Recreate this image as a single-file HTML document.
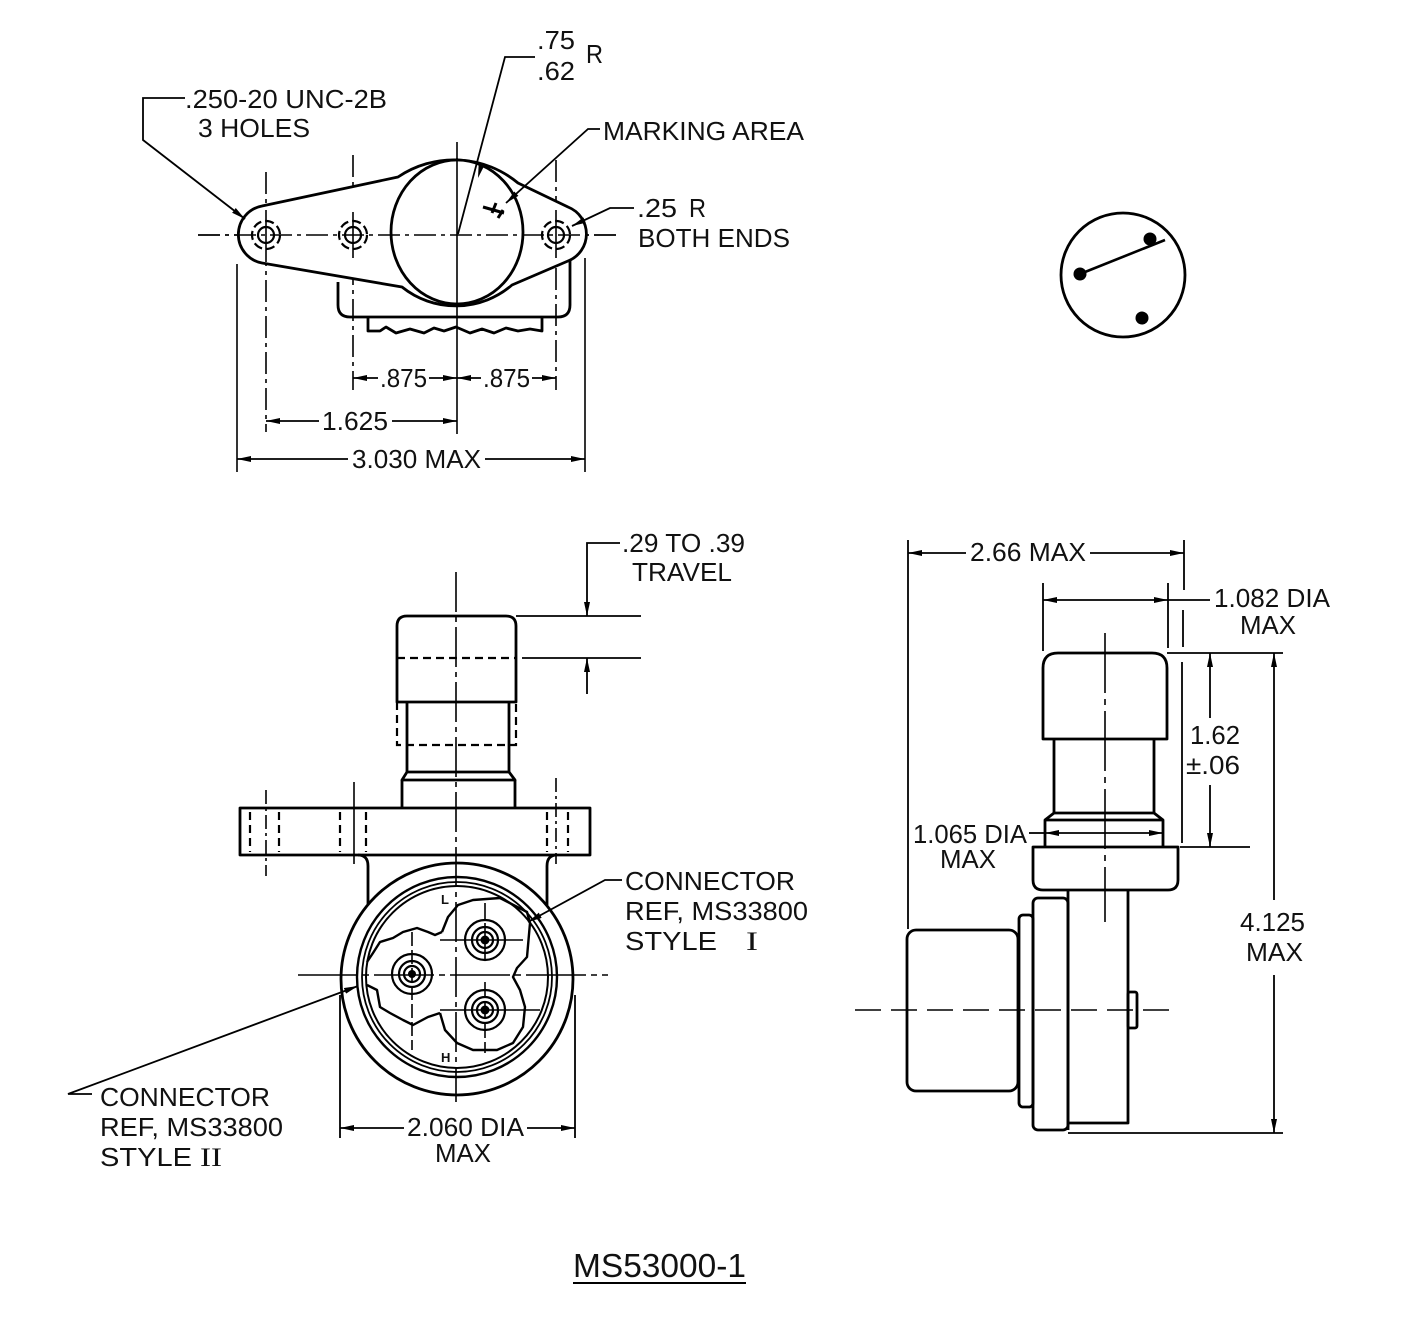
<!DOCTYPE html>
<html>
<head>
<meta charset="utf-8">
<style>
html,body{margin:0;padding:0;background:#fff;}
svg{display:block;}
text{font-family:"Liberation Sans",Arial,sans-serif;font-size:26px;fill:#111;}
.s{font-family:"Liberation Serif",serif;}
</style>
</head>
<body>
<svg width="1408" height="1340" viewBox="0 0 1408 1340" xmlns="http://www.w3.org/2000/svg">
<defs>
<marker id="a" viewBox="0 0 14 6" refX="14" refY="3" markerWidth="14" markerHeight="6" markerUnits="userSpaceOnUse" orient="auto-start-reverse"><path d="M0,0 L14,3 L0,6 Z" fill="#000"/></marker>
</defs>
<rect width="1408" height="1340" fill="#fff"/>

<!-- ================= TOP VIEW ================= -->
<g fill="none" stroke="#000" stroke-width="1.6">
  <g stroke-dasharray="22,5,4,5">
    <line x1="198" y1="235" x2="616" y2="235"/>
    <line x1="266" y1="172" x2="266" y2="432"/>
    <line x1="353" y1="155" x2="353" y2="390"/>
    <line x1="556" y1="160" x2="556" y2="390"/>
  </g>
  <line x1="457" y1="142" x2="457" y2="434"/>
  <line x1="237" y1="264" x2="237" y2="472"/>
  <line x1="585" y1="258" x2="585" y2="472"/>
</g>
<g fill="none" stroke="#000" stroke-width="2.8" stroke-linejoin="round">
  <path d="M338,282 L338,305 Q338,317 350,317 L558,317 Q570,317 570,305 L570,258"/>
  <path d="M368,317 L368,331 L380,331 L386,327 L396,333 L410,329 L424,333 L434,328 L444,331 L456,327 L470,333 L482,329 L494,333 L506,328 L518,331 L530,329 L542,331 L542,317"/>
  <path d="M262,206 L398,177 A100 100 0 0 1 518,183 L568,207 A29 29 0 0 1 568,261 L512,285 A86 86 0 0 1 402,287 L262,263 A29 29 0 0 1 262,206 Z" fill="#fff"/>
  <ellipse cx="457" cy="232" rx="66" ry="72" fill="#fff"/>
</g>
<g fill="none" stroke="#000" stroke-width="1.6">
  <line x1="198" y1="235" x2="616" y2="235" stroke-dasharray="22,5,4,5"/>
  <line x1="457" y1="158" x2="457" y2="306"/>
  <line x1="266" y1="210" x2="266" y2="262" />
  <line x1="353" y1="212" x2="353" y2="258" />
  <line x1="556" y1="210" x2="556" y2="258" />
</g>
<g fill="none" stroke="#000">
  <circle cx="266" cy="235" r="8" stroke-width="2.2"/>
  <circle cx="266" cy="235" r="14" stroke-width="2.2" stroke-dasharray="9,4"/>
  <circle cx="353" cy="235" r="8" stroke-width="2.2"/>
  <circle cx="353" cy="235" r="14" stroke-width="2.2" stroke-dasharray="9,4"/>
  <circle cx="556" cy="235" r="8" stroke-width="2.2"/>
  <circle cx="556" cy="235" r="14" stroke-width="2.2" stroke-dasharray="9,4"/>
</g>
<path d="M483,207 L504,213 M496,203 L492,213 M503,210 L498,218" stroke="#000" stroke-width="3" fill="none"/>
<g fill="none" stroke="#000" stroke-width="1.8">
  <path d="M185,98 L143,98 L143,140 L245,219" marker-end="url(#a)"/>
  <path d="M535,57 L505,57 L458,234"/>
  <path d="M600,129 L588,129 L506,203" marker-end="url(#a)"/>
  <path d="M634,208 L610,208 L572,226" marker-end="url(#a)"/>
</g>
<path d="M478,178 L484.5,165.3 L478.7,163.7 Z" fill="#000"/>
<g fill="none" stroke="#000" stroke-width="1.8">
  <line x1="353" y1="378" x2="378" y2="378" marker-start="url(#a)"/>
  <line x1="429" y1="378" x2="457" y2="378" marker-end="url(#a)"/>
  <line x1="457" y1="378" x2="481" y2="378" marker-start="url(#a)"/>
  <line x1="532" y1="378" x2="556" y2="378" marker-end="url(#a)"/>
  <line x1="266" y1="421" x2="319" y2="421" marker-start="url(#a)"/>
  <line x1="392" y1="421" x2="457" y2="421" marker-end="url(#a)"/>
  <line x1="237" y1="459" x2="348" y2="459" marker-start="url(#a)"/>
  <line x1="485" y1="459" x2="585" y2="459" marker-end="url(#a)"/>
</g>
<text x="537" y="49" textLength="38" lengthAdjust="spacingAndGlyphs">.75</text>
<text x="537" y="80" textLength="38" lengthAdjust="spacingAndGlyphs">.62</text>
<text x="586" y="63" textLength="17" lengthAdjust="spacingAndGlyphs">R</text>
<text x="185" y="108" textLength="202" lengthAdjust="spacingAndGlyphs">.250-20 UNC-2B</text>
<text x="198" y="137" textLength="112" lengthAdjust="spacingAndGlyphs">3 HOLES</text>
<text x="603" y="140" textLength="201" lengthAdjust="spacingAndGlyphs">MARKING AREA</text>
<text x="637" y="217" textLength="40" lengthAdjust="spacingAndGlyphs">.25</text>
<text x="689" y="217" textLength="17" lengthAdjust="spacingAndGlyphs">R</text>
<text x="638" y="247" textLength="152" lengthAdjust="spacingAndGlyphs">BOTH ENDS</text>
<text x="380" y="387" textLength="47" lengthAdjust="spacingAndGlyphs">.875</text>
<text x="483" y="387" textLength="47" lengthAdjust="spacingAndGlyphs">.875</text>
<text x="322" y="430" textLength="66" lengthAdjust="spacingAndGlyphs">1.625</text>
<text x="352" y="468" textLength="129" lengthAdjust="spacingAndGlyphs">3.030 MAX</text>

<!-- ================= TOP-RIGHT CIRCLE ================= -->
<circle cx="1123" cy="275" r="62" fill="none" stroke="#000" stroke-width="2.8"/>
<line x1="1080" y1="274" x2="1165" y2="240" stroke="#000" stroke-width="2.6"/>
<circle cx="1080" cy="274" r="6.5" fill="#000"/>
<circle cx="1150" cy="239" r="6.5" fill="#000"/>
<circle cx="1142" cy="318" r="6.5" fill="#000"/>

<!-- ================= FRONT VIEW ================= -->
<g fill="none" stroke="#000" stroke-width="2.8" stroke-linejoin="round">
  <path d="M397,702 L397,626 Q397,616 407,616 L506,616 Q516,616 516,626 L516,702 Z"/>
  <path d="M407,702 L407,772 M509,702 L509,772"/>
  <path d="M407,772 L509,772 M407,772 L402,780 L515,780 L509,772"/>
  <path d="M402,780 L402,808 M515,780 L515,808"/>
  <rect x="240" y="808" width="350" height="47"/>
  <path d="M358,855 Q368,855 368,866 L368,905"/>
  <path d="M557,855 Q547,855 547,866 L547,905"/>
  <circle cx="457" cy="979" r="116" fill="#fff"/>
  <circle cx="457" cy="977" r="100" stroke-width="2.4"/>
  <circle cx="457" cy="977" r="95" stroke-width="1.8"/>
  <circle cx="457" cy="977" r="91" stroke-width="2"/>
</g>
<g fill="none" stroke="#000" stroke-width="2.2" stroke-dasharray="8,5">
  <path d="M397,702 L397,745 L516,745 L516,702"/>
  <line x1="397" y1="658" x2="516" y2="658"/>
  <line x1="250" y1="812" x2="250" y2="852"/>
  <line x1="279" y1="812" x2="279" y2="852"/>
  <line x1="340" y1="812" x2="340" y2="852"/>
  <line x1="366" y1="812" x2="366" y2="852"/>
  <line x1="547" y1="812" x2="547" y2="852"/>
  <line x1="568" y1="812" x2="568" y2="852"/>
</g>
<g fill="none" stroke="#000" stroke-width="1.6">
  <line x1="266" y1="790" x2="266" y2="876" stroke-dasharray="14,4,3,4"/>
  <line x1="354" y1="782" x2="354" y2="864"/>
  <line x1="556" y1="778" x2="556" y2="864" stroke-dasharray="14,4,3,4"/>
  <line x1="456" y1="572" x2="456" y2="1102" stroke-dasharray="40,5,5,5"/>
</g>
<g fill="none" stroke="#000" stroke-width="2.4" stroke-linejoin="round">
  <path d="M440,1013 L445,1030 L457,1043 L473,1050 L497,1050 L513,1043 L523,1027 L525,1007 L520,990 L513,977 L517,968 L527,957 L530,923 L527,912 L500,898 L473,900 L458,905 L448,917 L442,932"/>
  <path d="M442,932 L435,935 L428,932 L417,928 L403,932 L393,938 L380,942 L373,953 L367,962"/>
  <path d="M367,985 L377,990 L380,1007 L390,1013 L403,1020 L413,1025 L428,1017 L440,1013"/>
</g>
<g fill="none" stroke="#000" stroke-width="2.2">
  <circle cx="412" cy="974" r="20"/><circle cx="412" cy="974" r="13"/><circle cx="412" cy="974" r="8"/>
  <circle cx="485" cy="940" r="20"/><circle cx="485" cy="940" r="13"/><circle cx="485" cy="940" r="8"/>
  <circle cx="485" cy="1010" r="20"/><circle cx="485" cy="1010" r="13"/><circle cx="485" cy="1010" r="8"/>
</g>
<circle cx="412" cy="974" r="4" fill="#000"/>
<circle cx="485" cy="940" r="4.5" fill="#000"/>
<circle cx="485" cy="1010" r="4.5" fill="#000"/>
<g fill="none" stroke="#000" stroke-width="1.6">
  <line x1="298" y1="975" x2="608" y2="975" stroke-dasharray="60,5,6,5"/>
  <line x1="440" y1="940" x2="523" y2="940"/>
  <line x1="440" y1="1010" x2="540" y2="1010"/>
  <line x1="485" y1="903" x2="485" y2="962" stroke-dasharray="16,4"/>
  <line x1="485" y1="982" x2="485" y2="1053" stroke-dasharray="16,4"/>
  <line x1="412" y1="932" x2="412" y2="1050" stroke-dasharray="14,4"/>
</g>
<text x="441" y="904" style="font-size:13px;font-weight:bold">L</text>
<text x="441" y="1062" style="font-size:13px;font-weight:bold">H</text>
<g fill="none" stroke="#000" stroke-width="1.8">
  <line x1="516" y1="616" x2="641" y2="616"/>
  <line x1="522" y1="658" x2="641" y2="658"/>
  <path d="M620,543 L587,543 L587,616" marker-end="url(#a)"/>
  <line x1="587" y1="694" x2="587" y2="658" marker-end="url(#a)"/>
  <path d="M622,880 L605,880 L528,922" marker-end="url(#a)"/>
  <path d="M92,1094 L68,1094 L358,986" marker-end="url(#a)"/>
  <line x1="340" y1="995" x2="340" y2="1138"/>
  <line x1="575" y1="995" x2="575" y2="1138"/>
  <line x1="340" y1="1128" x2="404" y2="1128" marker-start="url(#a)"/>
  <line x1="527" y1="1128" x2="575" y2="1128" marker-end="url(#a)"/>
</g>
<text x="622" y="552" textLength="123" lengthAdjust="spacingAndGlyphs">.29 TO .39</text>
<text x="632" y="581" textLength="100" lengthAdjust="spacingAndGlyphs">TRAVEL</text>
<text x="625" y="890" textLength="170" lengthAdjust="spacingAndGlyphs">CONNECTOR</text>
<text x="625" y="920" textLength="183" lengthAdjust="spacingAndGlyphs">REF, MS33800</text>
<text x="625" y="950" textLength="92" lengthAdjust="spacingAndGlyphs">STYLE</text>
<text x="746" y="950" class="s" textLength="12" lengthAdjust="spacingAndGlyphs">I</text>
<text x="100" y="1106" textLength="170" lengthAdjust="spacingAndGlyphs">CONNECTOR</text>
<text x="100" y="1136" textLength="183" lengthAdjust="spacingAndGlyphs">REF, MS33800</text>
<text x="100" y="1166" textLength="92" lengthAdjust="spacingAndGlyphs">STYLE</text>
<text x="200" y="1166" class="s" textLength="22" lengthAdjust="spacingAndGlyphs">II</text>
<text x="407" y="1136" textLength="117" lengthAdjust="spacingAndGlyphs">2.060 DIA</text>
<text x="435" y="1162" textLength="56" lengthAdjust="spacingAndGlyphs">MAX</text>

<!-- ================= SIDE VIEW ================= -->
<g fill="none" stroke="#000" stroke-width="1.8">
  <line x1="908" y1="540" x2="908" y2="929"/>
  <line x1="1184" y1="540" x2="1184" y2="590"/>
  <line x1="1183" y1="610" x2="1183" y2="647"/>
  <line x1="1182" y1="662" x2="1182" y2="843"/>
  <line x1="908" y1="553" x2="966" y2="553" marker-start="url(#a)"/>
  <line x1="1090" y1="553" x2="1184" y2="553" marker-end="url(#a)"/>
  <line x1="1043" y1="583" x2="1043" y2="651"/>
  <line x1="1168" y1="583" x2="1168" y2="648"/>
  <line x1="1043" y1="600" x2="1168" y2="600" marker-start="url(#a)" marker-end="url(#a)"/>
  <line x1="1168" y1="600" x2="1210" y2="600"/>
  <line x1="1167" y1="653" x2="1283" y2="653"/>
  <line x1="1180" y1="847" x2="1250" y2="847"/>
  <line x1="1068" y1="1133" x2="1283" y2="1133"/>
  <line x1="1210" y1="718" x2="1210" y2="653" marker-end="url(#a)"/>
  <line x1="1210" y1="785" x2="1210" y2="847" marker-end="url(#a)"/>
  <line x1="1274" y1="900" x2="1274" y2="653" marker-end="url(#a)"/>
  <line x1="1274" y1="975" x2="1274" y2="1133" marker-end="url(#a)"/>
  <line x1="1029" y1="833" x2="1045" y2="833"/>
  <line x1="1045" y1="833" x2="1163" y2="833" marker-start="url(#a)" marker-end="url(#a)"/>
</g>
<g fill="none" stroke="#000" stroke-width="2.8" stroke-linejoin="round">
  <path d="M1043,739 L1043,668 Q1043,653 1058,653 L1152,653 Q1167,653 1167,668 L1167,739 Z"/>
  <path d="M1054,739 L1054,813 M1154,739 L1154,813"/>
  <path d="M1054,813 L1154,813 L1163,820 L1163,847 M1054,813 L1045,820 L1045,847 M1045,820 L1163,820"/>
  <path d="M1033,847 L1178,847 L1178,880 Q1178,890 1168,890 L1043,890 Q1033,890 1033,880 Z"/>
  <rect x="1033" y="898" width="35" height="232" rx="5"/>
  <path d="M1068,890 L1068,1130 M1128,890 L1128,1123 L1068,1123"/>
  <rect x="1019" y="915" width="14" height="192" rx="4"/>
  <rect x="907" y="930" width="111" height="161" rx="9"/>
  <rect x="1128" y="992" width="9" height="36" rx="2"/>
</g>
<g fill="none" stroke="#000" stroke-width="1.6">
  <line x1="1105" y1="633" x2="1105" y2="922" stroke-dasharray="60,6,6,6"/>
  <line x1="855" y1="1010" x2="1176" y2="1010" stroke-dasharray="26,10"/>
</g>
<text x="970" y="561" textLength="116" lengthAdjust="spacingAndGlyphs">2.66 MAX</text>
<text x="1214" y="607" textLength="116" lengthAdjust="spacingAndGlyphs">1.082 DIA</text>
<text x="1240" y="634" textLength="56" lengthAdjust="spacingAndGlyphs">MAX</text>
<text x="1190" y="744" textLength="50" lengthAdjust="spacingAndGlyphs">1.62</text>
<text x="1186" y="774" textLength="54" lengthAdjust="spacingAndGlyphs">±.06</text>
<text x="913" y="843" textLength="114" lengthAdjust="spacingAndGlyphs">1.065 DIA</text>
<text x="940" y="868" textLength="56" lengthAdjust="spacingAndGlyphs">MAX</text>
<text x="1240" y="931" textLength="65" lengthAdjust="spacingAndGlyphs">4.125</text>
<text x="1246" y="961" textLength="57" lengthAdjust="spacingAndGlyphs">MAX</text>

<text x="573" y="1277" style="font-size:33px" textLength="173" lengthAdjust="spacingAndGlyphs">MS53000-1</text>
<line x1="573" y1="1283" x2="746" y2="1283" stroke="#000" stroke-width="2"/>
</svg>
</body>
</html>
